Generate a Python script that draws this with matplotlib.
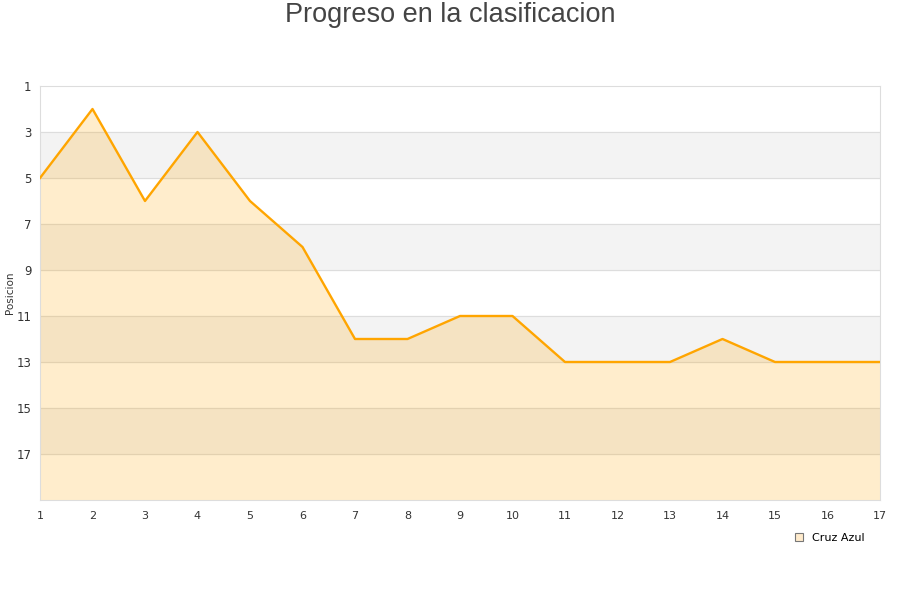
import matplotlib
matplotlib.use("Agg")
import matplotlib.pyplot as plt
from matplotlib.lines import Line2D

jornadas = list(range(1, 18))
posicion = [5, 2, 6, 3, 6, 8, 12, 12, 11, 11, 13, 13, 13, 12, 13, 13, 13]
y_ticks = [1, 3, 5, 7, 9, 11, 13, 15, 17]
equipo = "Cruz Azul"

fig = plt.figure(figsize=(9, 6), dpi=100)
ax = fig.add_axes([40 / 900, 1 - 500 / 600, 840 / 900, 414 / 600])

# alternating bands
for lo in [3, 7, 11, 15]:
    ax.axhspan(lo, lo + 2, color='#f3f3f3', zorder=0)
for t in y_ticks[1:]:
    ax.axhline(t, color='#dddddd', lw=0.8, zorder=1)

ax.fill_between(jornadas, posicion, 19, color='#ffa500', alpha=0.2, lw=0, zorder=2)
ax.plot(jornadas, posicion, color='#ffa500', lw=1.7, zorder=3)

ax.set_xlim(1, 17)
ax.set_ylim(19, 1)
ax.set_xticks(jornadas)
ax.set_yticks(y_ticks)
ax.tick_params(length=0, labelsize=8, colors='#333333', pad=8)
ax.tick_params(axis='y', labelsize=8.5, pad=6)
for s in ax.spines.values():
    s.set_color('#dddddd')
    s.set_linewidth(0.8)

fig.text(10 / 900, 1 - 293 / 600, "Posicion", rotation=90, ha='center', va='center',
         fontsize=7.5, color='#333333')
fig.text(0.5, 1 - 15 / 600, "Progreso en la clasificacion", ha='center', va='center',
         fontsize=19.5, color='#444444', family='Liberation Sans')

handle = Line2D([], [], marker='s', ls='none', markersize=6,
                markerfacecolor='#ffebcc', markeredgecolor='#777777', markeredgewidth=0.8)
fig.legend([handle], [equipo], loc='center', bbox_to_anchor=(0.918, 0.104),
           frameon=False, fontsize=8, handletextpad=0.2)

plt.savefig("out.png", dpi=100)
